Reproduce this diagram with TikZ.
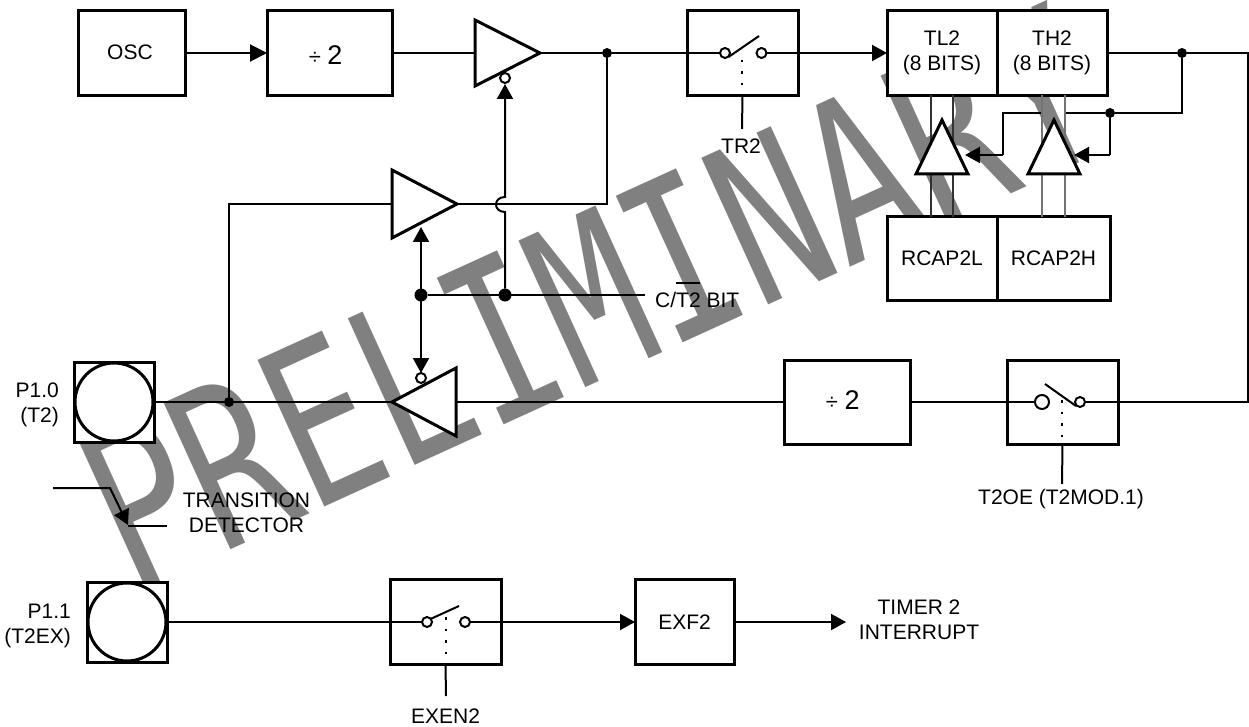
\documentclass[tikz,border=0pt]{standalone}
\usepackage{fontspec}
\setmainfont{Liberation Sans}
\newfontfamily\wmfont{DejaVu Sans Mono}
\usetikzlibrary{arrows.meta}
\definecolor{wm}{RGB}{128,128,128}
\tikzset{
  txt/.style={font=\fontsize{21}{25}\selectfont,align=center,inner sep=0pt},
  boxn/.style={draw,line width=3pt,fill=white,inner sep=0pt,outer sep=0pt,font=\fontsize{21}{25}\selectfont,align=center},
  conn/.style={line width=2pt},
  thinbus/.style={line width=1.5pt,color=black!80},
  graybus/.style={line width=1.5pt,color=black!55},
  tri/.style={-{Triangle[length=15pt,width=16pt]}},
  tribig/.style={-{Triangle[length=17pt,width=17pt]}},
  tridouble/.style={{Triangle[length=15pt,width=16pt]}-{Triangle[length=15pt,width=16pt]}},
  buf/.style={line width=3pt,fill=white,line join=miter},
  oc/.style={circle,draw,line width=2pt,fill=white,inner sep=0pt,outer sep=0pt,minimum size=10pt},
  ocbig/.style={oc,minimum size=14pt},
  dotn/.style={circle,fill=black,inner sep=0pt,outer sep=0pt,minimum size=10pt},
  dotbig/.style={dotn,minimum size=13pt},
  port/.style={draw,line width=3pt,fill=white,minimum size=80pt,inner sep=0pt,outer sep=0pt},
  portc/.style={circle,draw,line width=3pt,fill=white,minimum size=78pt,inner sep=0pt,outer sep=0pt},
  dots/.style={line width=2pt,dash pattern=on 2.5pt off 9pt},
}
\begin{document}
\begin{tikzpicture}[x=1pt,y=-1pt]
\useasboundingbox (0,0) rectangle (1249,727);
% watermark
\node[anchor=base west,rotate=24.5,inner sep=0pt,text=wm] (wmk) at (131,595)
  {\scalebox{.74}[1]{\fontsize{221}{221}\selectfont\wmfont PRELIMINARY}};
% boxes
\node[boxn,minimum width=107pt,minimum height=85pt] (osc) at (131.5,53) {};
\node[txt] (osct) at (130,52) {OSC};
\node[boxn,minimum width=125pt,minimum height=85pt] (div1) at (329.5,53) {};
\node[boxn,minimum width=111pt,minimum height=85pt] (sw1) at (742.5,53) {};
\node[boxn,minimum width=110pt,minimum height=85pt] (tl2) at (942,53) {TL2\\(8 BITS)};
\node[boxn,minimum width=110pt,minimum height=85pt] (th2) at (1052,53) {TH2\\(8 BITS)};
\node[boxn,minimum width=110pt,minimum height=83pt] (rl2) at (942,258.5) {RCAP2L};
\node[boxn,minimum width=113pt,minimum height=83pt] (rh2) at (1053.5,258.5) {RCAP2H};
\node[boxn,minimum width=126pt,minimum height=84pt] (div2) at (847,402) {};
\node[boxn,minimum width=111pt,minimum height=84pt] (sw2) at (1062.5,402) {};
\node[boxn,minimum width=111pt,minimum height=85pt] (sw3) at (445.5,622) {};
\node[boxn,minimum width=99pt,minimum height=85pt] (exf) at (684.5,622) {EXF2};
\node[port] (p10) at (114,402) {};
\node[portc] (p10c) at (114,402) {};
\node[port] (p11) at (127,622) {};
\node[portc] (p11c) at (127,622) {};
% named points
\coordinate (b1in) at (475,53); \coordinate (b1out) at (540,53);
\coordinate (b2in) at (392,204); \coordinate (b2out) at (457,204);
\coordinate (b3in) at (456,402); \coordinate (b3out) at (392,402);
\coordinate (en1) at (505,78); \coordinate (en2t) at (421,227); \coordinate (en3b) at (421,373);
\coordinate (rcorner) at (1248,53); \coordinate (rcorner2) at (1248,402);
\coordinate (k1) at (1182,113); \coordinate (j1) at (1065,113); \coordinate (j2) at (1042,113);
\coordinate (k2) at (1003,113); \coordinate (k3) at (1003,155); \coordinate (t1a) at (965,155);
\coordinate (k4) at (1110,155); \coordinate (t2a) at (1074,155);
\coordinate (cend) at (645,295);
\coordinate (ts1) at (53,488); \coordinate (ts2) at (110,488); \coordinate (ts3) at (128,525); \coordinate (ts4) at (167,526);
\coordinate (jt) at (505,197); \coordinate (jb) at (505,212);
% small contact circles and dots
\node[oc] (c1a) at (725,53) {};
\node[oc] (c1b) at (761.5,53) {};
\node[ocbig] (c2a) at (1042,402) {};
\node[oc] (c2b) at (1080,402) {};
\node[oc] (c3a) at (427,622) {};
\node[oc] (c3b) at (465,622) {};
\node[dotn] (d1) at (607,53) {};
\node[dotn] (d2) at (1182,53) {};
\node[dotn] (d3) at (1110,113) {};
\node[dotn] (d4) at (229,402) {};
\node[dotbig] (d5) at (421,295) {};
\node[dotbig] (d6) at (505,295) {};
% main connectors
\draw[conn,tribig] (osc) -- (div1);
\draw[conn] (div1.east |- b1in) -- (b1in);
\draw[conn] (b1out) -- (d1) -- (c1a);
\draw[conn,tri] (c1b) -- (tl2.west);
\draw[conn] (th2.east) -- (d2) -- (rcorner) -- (rcorner2) -- (c2b);
\draw[conn] (d2) -- (k1) -- (d3) -- (j1);
\draw[conn] (j2) -- (k2) -- (k3);
\draw[conn] (d3) -- (k4);
\draw[conn] (d1) -- (607,204) -- (b2out);
\draw[conn] (d4) -- (229,204) -- (b2in);
\draw[conn] (p10) -- (b3out);
\draw[conn] (b3in) -- (div2);
\draw[conn] (div2) -- (c2a);
\draw[conn] (p11) -- (c3a);
\draw[conn,tri] (c3b) -- (exf);
\coordinate (intr) at (846,622);
\draw[conn,tri] (exf) -- (intr);
% enable lines
\draw[conn,tri] (d6) -- (jb) .. controls (493,212) and (493,197) .. (jt) -- (505,84);
\draw[conn,tridouble] (en2t) -- (en3b);
\draw[conn] (d5) -- (cend);
% transition detector
\draw[conn,tri] (ts1) -- (ts2) -- (ts3);
\draw[conn] (ts3 |- ts4) -- (ts4);
% buses
\foreach \x in {931,953}{\draw[thinbus] (\x,95) -- (\x,217);}
\foreach \x in {1042,1065}{\draw[graybus] (\x,95) -- (\x,217);}
% buffers
\draw[buf] (475,20) -- (b1out) -- (475,86) -- cycle;
\draw[buf] (392,170) -- (b2out) -- (392,238) -- cycle;
\draw[buf] (456,368) -- (b3out) -- (456,436) -- cycle;
\draw[buf] (942,120) -- (968,174) -- (916,174) -- cycle;
\draw[buf] (1054,120) -- (1080,174) -- (1028,174) -- cycle;
\node[oc] (n1) at (505,78) {};
\node[oc] (n2) at (421,378) {};
\draw[conn,tri] (k4) -- (t2a);
\draw[conn,tri] (k3) -- (t1a);
% switches
\coordinate (bl1) at (759,36); \coordinate (bl2) at (1045,384); \coordinate (bl3) at (459,606);
\draw[conn] (728.5,57) -- (bl1);
\draw[conn] (bl2) -- (1076,406);
\draw[conn] (430.5,619) -- (bl3);
\draw[dots] (742,60) -- (742,88);
\draw[dots] (1062,400) -- (1062,437);
\draw[dots] (446,617) -- (446,656);
\coordinate (s1) at (742,129); \coordinate (s2) at (1062,484); \coordinate (s3) at (446,696);
\draw[conn] (sw1.south) -- (s1);
\draw[conn] (sw2.south) -- (s2);
\draw[conn] (sw3.south) -- (s3);
% labels
\node[txt] (ldiv1a) at (315,58) {\fontsize{22}{22}\selectfont ÷};
\node[txt] (ldiv1b) at (335,55) {\fontsize{27}{27}\selectfont 2};
\node[txt] (ldiv2a) at (832,403) {\fontsize{22}{22}\selectfont ÷};
\node[txt] (ldiv2b) at (852,400) {\fontsize{27}{27}\selectfont 2};
\node[txt] (tr2) at (741,146) {TR2};
\node[txt,anchor=west] (ct2) at (655,295) {C/\rlap{\raisebox{23.5pt}{\rule{24pt}{1.5pt}}}T2 BIT};
\node[txt,align=right,anchor=east] (lp10) at (59,404.5) {P1.0\\(T2)};
\node[txt,align=right,anchor=east] (lp11) at (71,625.5) {P1.1\\(T2EX)};
\node[txt] (ltd) at (246.5,512.5) {TRANSITION\\DETECTOR};
\node[txt] (lt2oe) at (1061,499) {T2OE (T2MOD.1)};
\node[txt] (lexen) at (445.5,716) {EXEN2};
\node[txt] (lint) at (919,619.5) {TIMER 2\\INTERRUPT};
\end{tikzpicture}
\end{document}
